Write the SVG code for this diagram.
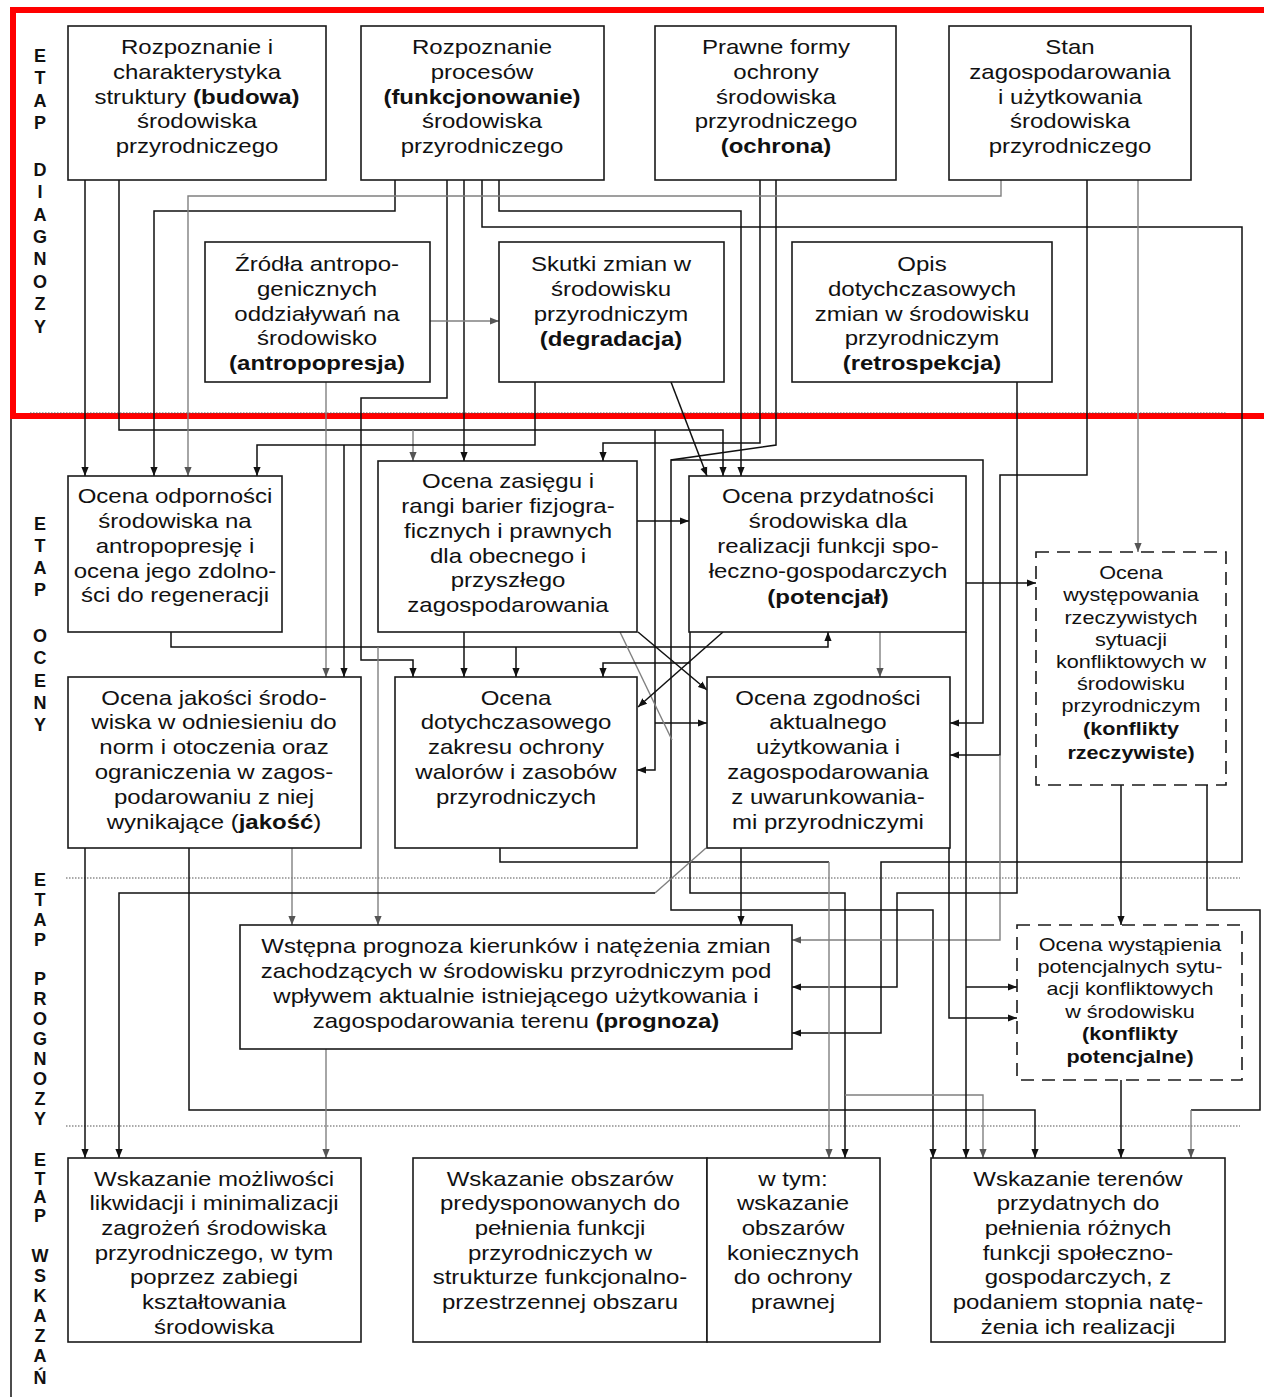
<svg xmlns="http://www.w3.org/2000/svg" width="1264" height="1397" viewBox="0 0 1264 1397">
<defs>
<style>
.box{fill:#fff;stroke:#1a1a1a;stroke-width:1.6}
.dbox{fill:#fff;stroke:#1a1a1a;stroke-width:1.6;stroke-dasharray:13 8}
.t{font-family:"Liberation Sans",Arial,sans-serif;font-size:20px;fill:#111;text-anchor:middle}
.s{font-size:18px}
.b{font-weight:bold}
.lab{font-family:"Liberation Sans",Arial,sans-serif;font-size:18px;font-weight:bold;fill:#111;text-anchor:middle}
.c{fill:none;stroke:#111;stroke-width:1.5}
.g{fill:none;stroke:#808080;stroke-width:1.4}
.dot{fill:none;stroke:#555;stroke-width:1.2;stroke-dasharray:1.5 1.5}
</style>
<marker id="a" viewBox="0 0 10 8" refX="10" refY="4" markerWidth="9" markerHeight="8" markerUnits="userSpaceOnUse" orient="auto"><path d="M0,0 L10,4 L0,8 z" fill="#111"/></marker>
<marker id="ag" viewBox="0 0 10 8" refX="10" refY="4" markerWidth="9" markerHeight="8" markerUnits="userSpaceOnUse" orient="auto"><path d="M0,0 L10,4 L0,8 z" fill="#555"/></marker>
</defs>
<rect width="1264" height="1397" fill="#fff"/>

<g id="frame">
<rect x="13" y="10" width="1258" height="406" fill="none" stroke="#ff0000" stroke-width="6"/>
<line x1="11" y1="419" x2="11" y2="1397" stroke="#111" stroke-width="1.5"/>
<line class="dot" x1="30" y1="413" x2="1226" y2="413"/>
<line class="dot" x1="66" y1="878" x2="1240" y2="878"/>
<line class="dot" x1="66" y1="1126" x2="1240" y2="1126"/>
</g>

<g id="labels" class="lab">
<text x="40" y="62">E</text><text x="40" y="84">T</text><text x="40" y="107">A</text><text x="40" y="129">P</text>
<text x="40" y="176">D</text><text x="40" y="198">I</text><text x="40" y="221">A</text><text x="40" y="243">G</text><text x="40" y="265">N</text><text x="40" y="288">O</text><text x="40" y="310">Z</text><text x="40" y="333">Y</text>
<text x="40" y="530">E</text><text x="40" y="552">T</text><text x="40" y="574">A</text><text x="40" y="596">P</text>
<text x="40" y="642">O</text><text x="40" y="664">C</text><text x="40" y="687">E</text><text x="40" y="709">N</text><text x="40" y="731">Y</text>
<text x="40" y="886">E</text><text x="40" y="906">T</text><text x="40" y="926">A</text><text x="40" y="946">P</text>
<text x="40" y="985">P</text><text x="40" y="1005">R</text><text x="40" y="1025">O</text><text x="40" y="1045">G</text><text x="40" y="1065">N</text><text x="40" y="1085">O</text><text x="40" y="1105">Z</text><text x="40" y="1125">Y</text>
<text x="40" y="1166">E</text><text x="40" y="1185">T</text><text x="40" y="1203">A</text><text x="40" y="1222">P</text>
<text x="40" y="1262">W</text><text x="40" y="1282">S</text><text x="40" y="1302">K</text><text x="40" y="1322">A</text><text x="40" y="1342">Z</text><text x="40" y="1362">A</text><text x="40" y="1384">Ń</text>
</g>

<g id="connectors">
<path class="c" d="M85,180 V476" marker-end="url(#a)"/>
<path class="c" d="M119,180 V430 H723 V476" marker-end="url(#a)"/>
<path class="g" d="M413,430 V461" marker-end="url(#ag)"/>
<path class="c" d="M655,430 V770 H637" marker-end="url(#a)"/>
<path class="c" d="M655,723 H707" marker-end="url(#a)"/>
<path class="c" d="M395,180 V211 H154 V476" marker-end="url(#a)"/>
<path class="c" d="M447,180 V398 H361 V660 H413 V677" marker-end="url(#a)"/>
<path class="c" d="M464,180 V461" marker-end="url(#a)"/>
<path class="c" d="M482,180 V227 H1242 V862 H881 V1033 H792" marker-end="url(#a)"/>
<path class="c" d="M499,180 V211 H741 V476" marker-end="url(#a)"/>
<path class="c" d="M760,180 V443 H603 V461" marker-end="url(#a)"/>
<path class="c" d="M776,180 V445 L671,460 V910 H933 V1158" marker-end="url(#a)"/>
<path class="c" d="M671,460 H983 V723 H950" marker-end="url(#a)"/>
<path class="g" d="M1001,180 V196 H188 V476" marker-end="url(#ag)"/>
<path class="c" d="M1087,180 V475 H1000 V755 H950" marker-end="url(#a)"/>
<path class="g" d="M1000,755 V940 H792" marker-end="url(#ag)"/>
<path class="g" d="M1138,180 V552" marker-end="url(#ag)"/>
<path class="g" d="M430,321 H499" marker-end="url(#ag)"/>
<path class="g" d="M326,382 V677" marker-end="url(#ag)"/>
<path class="c" d="M535,382 V445 H257 V476" marker-end="url(#a)"/>
<path class="c" d="M344,445 V677" marker-end="url(#a)"/>
<path class="c" d="M671,382 L707,476" marker-end="url(#a)"/>
<path class="c" d="M1017,382 V893 H897 V987 H792" marker-end="url(#a)"/>
<path class="c" d="M171,632 V647 H828 V632" marker-end="url(#a)"/>
<path class="g" d="M378,647 V925" marker-end="url(#ag)"/>
<path class="c" d="M516,647 V677" marker-end="url(#a)"/>
<path class="c" d="M464,632 V677" marker-end="url(#a)"/>
<path class="c" d="M637,521 H689" marker-end="url(#a)"/>
<path class="c" d="M638,632 L707,690" marker-end="url(#a)"/>
<path class="g" d="M620,632 L672,740"/>
<path class="c" d="M690,632 V893 H845 V1158" marker-end="url(#a)"/>
<path class="c" d="M690,663 H603 V677" marker-end="url(#a)"/>
<path class="g" d="M845,1095 H983 V1158" marker-end="url(#ag)"/>
<path class="c" d="M723,632 L638,707" marker-end="url(#a)"/>
<path class="g" d="M880,632 V677" marker-end="url(#ag)"/>
<path class="c" d="M966,583 H1036" marker-end="url(#a)"/>
<path class="c" d="M966,632 V1158" marker-end="url(#a)"/>
<path class="c" d="M966,987 H1017" marker-end="url(#a)"/>
<path class="c" d="M1121,785 V925" marker-end="url(#a)"/>
<path class="c" d="M1207,785 V910 H1260 V1110 H1191"/>
<path class="g" d="M1191,1110 V1158" marker-end="url(#ag)"/>
<path class="c" d="M85,848 V1158" marker-end="url(#a)"/>
<path class="c" d="M189,848 V1110 H1035 V1158" marker-end="url(#a)"/>
<path class="g" d="M292,848 V925" marker-end="url(#ag)"/>
<path class="c" d="M500,848 V862 H829"/>
<path class="g" d="M829,862 V1158" marker-end="url(#ag)"/>
<path class="c" d="M741,848 V925" marker-end="url(#a)"/>
<path class="c" d="M949,848 V1018 H1017" marker-end="url(#a)"/>
<path class="g" d="M706,848 L655,893"/>
<path class="c" d="M655,893 H119 V1158" marker-end="url(#a)"/>
<path class="g" d="M326,1049 V1158" marker-end="url(#ag)"/>
<path class="c" d="M1121,1080 V1158" marker-end="url(#a)"/>
</g>

<g id="n1"><rect class="box" x="68" y="26" width="258" height="154"/>
<text class="t" transform="translate(197 0) scale(1.2 1)"><tspan x="0" y="54">Rozpoznanie i</tspan><tspan x="0" y="79">charakterystyka</tspan><tspan x="0" y="104">struktury <tspan class="b">(budowa)</tspan></tspan><tspan x="0" y="128">środowiska</tspan><tspan x="0" y="153">przyrodniczego</tspan></text></g>

<g id="n2"><rect class="box" x="361" y="26" width="243" height="154"/>
<text class="t" transform="translate(482 0) scale(1.2 1)"><tspan x="0" y="54">Rozpoznanie</tspan><tspan x="0" y="79">procesów</tspan><tspan x="0" y="104" class="b">(funkcjonowanie)</tspan><tspan x="0" y="128">środowiska</tspan><tspan x="0" y="153">przyrodniczego</tspan></text></g>

<g id="n3"><rect class="box" x="655" y="26" width="241" height="154"/>
<text class="t" transform="translate(776 0) scale(1.2 1)"><tspan x="0" y="54">Prawne formy</tspan><tspan x="0" y="79">ochrony</tspan><tspan x="0" y="104">środowiska</tspan><tspan x="0" y="128">przyrodniczego</tspan><tspan x="0" y="153" class="b">(ochrona)</tspan></text></g>

<g id="n4"><rect class="box" x="949" y="26" width="242" height="154"/>
<text class="t" transform="translate(1070 0) scale(1.2 1)"><tspan x="0" y="54">Stan</tspan><tspan x="0" y="79">zagospodarowania</tspan><tspan x="0" y="104">i użytkowania</tspan><tspan x="0" y="128">środowiska</tspan><tspan x="0" y="153">przyrodniczego</tspan></text></g>

<g id="n5"><rect class="box" x="205" y="242" width="225" height="140"/>
<text class="t" transform="translate(317 0) scale(1.2 1)"><tspan x="0" y="271">Źródła antropo-</tspan><tspan x="0" y="296">genicznych</tspan><tspan x="0" y="321">oddziaływań na</tspan><tspan x="0" y="345">środowisko</tspan><tspan x="0" y="370" class="b">(antropopresja)</tspan></text></g>

<g id="n6"><rect class="box" x="499" y="242" width="225" height="140"/>
<text class="t" transform="translate(611 0) scale(1.2 1)"><tspan x="0" y="271">Skutki zmian w</tspan><tspan x="0" y="296">środowisku</tspan><tspan x="0" y="321">przyrodniczym</tspan><tspan x="0" y="346" class="b">(degradacja)</tspan></text></g>

<g id="n7"><rect class="box" x="792" y="242" width="260" height="140"/>
<text class="t" transform="translate(922 0) scale(1.2 1)"><tspan x="0" y="271">Opis</tspan><tspan x="0" y="296">dotychczasowych</tspan><tspan x="0" y="321">zmian w środowisku</tspan><tspan x="0" y="345">przyrodniczym</tspan><tspan x="0" y="370" class="b">(retrospekcja)</tspan></text></g>

<g id="n8"><rect class="box" x="68" y="476" width="214" height="156"/>
<text class="t" transform="translate(175 0) scale(1.2 1)"><tspan x="0" y="503">Ocena odporności</tspan><tspan x="0" y="528">środowiska na</tspan><tspan x="0" y="553">antropopresję i</tspan><tspan x="0" y="578">ocena jego zdolno-</tspan><tspan x="0" y="602">ści do regeneracji</tspan></text></g>

<g id="n9"><rect class="box" x="378" y="461" width="259" height="171"/>
<text class="t" transform="translate(508 0) scale(1.2 1)"><tspan x="0" y="488">Ocena zasięgu i</tspan><tspan x="0" y="513">rangi barier fizjogra-</tspan><tspan x="0" y="538">ficznych i prawnych</tspan><tspan x="0" y="563">dla obecnego i</tspan><tspan x="0" y="587">przyszłego</tspan><tspan x="0" y="612">zagospodarowania</tspan></text></g>

<g id="n10"><rect class="box" x="689" y="476" width="277" height="156"/>
<text class="t" transform="translate(828 0) scale(1.2 1)"><tspan x="0" y="503">Ocena przydatności</tspan><tspan x="0" y="528">środowiska dla</tspan><tspan x="0" y="553">realizacji funkcji spo-</tspan><tspan x="0" y="578">łeczno-gospodarczych</tspan><tspan x="0" y="604" class="b">(potencjał)</tspan></text></g>

<g id="n11"><rect class="dbox" x="1036" y="552" width="190" height="233"/>
<text class="t s" transform="translate(1131 0) scale(1.2 1)"><tspan x="0" y="579">Ocena</tspan><tspan x="0" y="601">występowania</tspan><tspan x="0" y="624">rzeczywistych</tspan><tspan x="0" y="646">sytuacji</tspan><tspan x="0" y="668">konfliktowych w</tspan><tspan x="0" y="690">środowisku</tspan><tspan x="0" y="712">przyrodniczym</tspan><tspan x="0" y="735" class="b">(konflikty</tspan><tspan x="0" y="759" class="b">rzeczywiste)</tspan></text></g>

<g id="n12"><rect class="box" x="68" y="677" width="293" height="171"/>
<text class="t" transform="translate(214 0) scale(1.2 1)"><tspan x="0" y="705">Ocena jakości środo-</tspan><tspan x="0" y="729">wiska w odniesieniu do</tspan><tspan x="0" y="754">norm i otoczenia oraz</tspan><tspan x="0" y="779">ograniczenia w zagos-</tspan><tspan x="0" y="804">podarowaniu z niej</tspan><tspan x="0" y="829">wynikające (<tspan class="b">jakość</tspan>)</tspan></text></g>

<g id="n13"><rect class="box" x="395" y="677" width="242" height="171"/>
<text class="t" transform="translate(516 0) scale(1.2 1)"><tspan x="0" y="705">Ocena</tspan><tspan x="0" y="729">dotychczasowego</tspan><tspan x="0" y="754">zakresu ochrony</tspan><tspan x="0" y="779">walorów i zasobów</tspan><tspan x="0" y="804">przyrodniczych</tspan></text></g>

<g id="n14"><rect class="box" x="707" y="677" width="243" height="171"/>
<text class="t" transform="translate(828 0) scale(1.2 1)"><tspan x="0" y="705">Ocena zgodności</tspan><tspan x="0" y="729">aktualnego</tspan><tspan x="0" y="754">użytkowania i</tspan><tspan x="0" y="779">zagospodarowania</tspan><tspan x="0" y="804">z uwarunkowania-</tspan><tspan x="0" y="829">mi przyrodniczymi</tspan></text></g>

<g id="n15"><rect class="box" x="240" y="925" width="552" height="124"/>
<text class="t" transform="translate(516 0) scale(1.2 1)"><tspan x="0" y="953">Wstępna prognoza kierunków i natężenia zmian</tspan><tspan x="0" y="978">zachodzących w środowisku przyrodniczym pod</tspan><tspan x="0" y="1003">wpływem aktualnie istniejącego użytkowania i</tspan><tspan x="0" y="1028">zagospodarowania terenu <tspan class="b">(prognoza)</tspan></tspan></text></g>

<g id="n16"><rect class="dbox" x="1017" y="925" width="225" height="155"/>
<text class="t s" transform="translate(1130 0) scale(1.2 1)"><tspan x="0" y="951">Ocena wystąpienia</tspan><tspan x="0" y="973">potencjalnych sytu-</tspan><tspan x="0" y="995">acji konfliktowych</tspan><tspan x="0" y="1018">w środowisku</tspan><tspan x="0" y="1040" class="b">(konflikty</tspan><tspan x="0" y="1063" class="b">potencjalne)</tspan></text></g>

<g id="n17"><rect class="box" x="68" y="1158" width="293" height="184"/>
<text class="t" transform="translate(214 0) scale(1.2 1)"><tspan x="0" y="1186">Wskazanie możliwości</tspan><tspan x="0" y="1210">likwidacji i minimalizacji</tspan><tspan x="0" y="1235">zagrożeń środowiska</tspan><tspan x="0" y="1260">przyrodniczego, w tym</tspan><tspan x="0" y="1284">poprzez zabiegi</tspan><tspan x="0" y="1309">kształtowania</tspan><tspan x="0" y="1334">środowiska</tspan></text></g>

<g id="n18"><rect class="box" x="413" y="1158" width="294" height="184"/>
<text class="t" transform="translate(560 0) scale(1.2 1)"><tspan x="0" y="1186">Wskazanie obszarów</tspan><tspan x="0" y="1210">predysponowanych do</tspan><tspan x="0" y="1235">pełnienia funkcji</tspan><tspan x="0" y="1260">przyrodniczych w</tspan><tspan x="0" y="1284">strukturze funkcjonalno-</tspan><tspan x="0" y="1309">przestrzennej obszaru</tspan></text></g>

<g id="n19"><rect class="box" x="707" y="1158" width="173" height="184"/>
<text class="t" transform="translate(793 0) scale(1.2 1)"><tspan x="0" y="1186">w tym:</tspan><tspan x="0" y="1210">wskazanie</tspan><tspan x="0" y="1235">obszarów</tspan><tspan x="0" y="1260">koniecznych</tspan><tspan x="0" y="1284">do ochrony</tspan><tspan x="0" y="1309">prawnej</tspan></text></g>

<g id="n20"><rect class="box" x="931" y="1158" width="294" height="184"/>
<text class="t" transform="translate(1078 0) scale(1.2 1)"><tspan x="0" y="1186">Wskazanie terenów</tspan><tspan x="0" y="1210">przydatnych do</tspan><tspan x="0" y="1235">pełnienia różnych</tspan><tspan x="0" y="1260">funkcji społeczno-</tspan><tspan x="0" y="1284">gospodarczych, z</tspan><tspan x="0" y="1309">podaniem stopnia natę-</tspan><tspan x="0" y="1334">żenia ich realizacji</tspan></text></g>
</svg>
